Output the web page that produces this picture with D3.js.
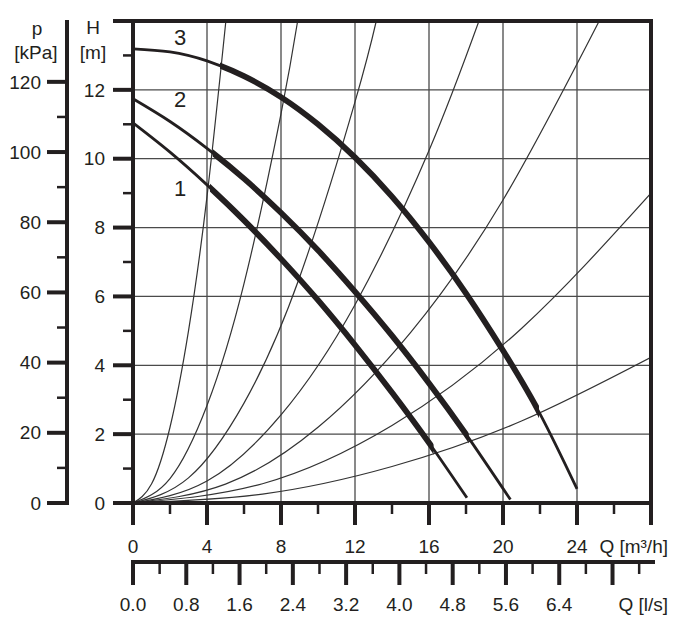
<!DOCTYPE html>
<html>
<head>
<meta charset="utf-8">
<script src="https://cdn.jsdelivr.net/npm/d3@7"></script>
<style>
body { margin: 0; background: #fff; }
text { font-family: "Liberation Sans", Arial, sans-serif; fill: #231f20; }
</style>
</head>
<body>
<svg id="chart" width="700" height="626"></svg>
<script>

// pump curves Q [m3/h], H [m]
var curve1 = [[0,11.04],[2,10.19],[4,9.24],[6,8.21],[8,7.09],[10,5.89],[12,4.59],[14,3.21],[16,1.75],[18.05,0.15]];
var curve2 = [[0,11.74],[2,11.08],[4,10.3],[6,9.42],[8,8.43],[10,7.34],[12,6.14],[14,4.86],[16,3.48],[18,2.0],[20.4,0.1]];
var curve3 = [[0,13.19],[2,13.1],[4,12.84],[6,12.4],[8,11.79],[10,11.0],[12,10.04],[14,8.9],[16,7.58],[18,6.09],[20,4.43],[22,2.59],[24,0.41]];
var curveNames = ["1", "2", "3"];
var thickFrom = [4.16, 4.3, 4.7];
var thickTo = [16.25, 18.15, 21.95];

// system curves (thin, through origin)
var sys1 = [[0,0],[1,0.55],[2,2.2],[3,5.0],[4,8.9],[5.02,14]];
var sys2 = [[0,0],[2,0.71],[4,2.83],[6,6.37],[8,11.3],[8.9,14]];
var sys3 = [[0,0],[3,0.73],[6,2.9],[9,6.55],[12,11.65],[13.15,14]];
var sys4 = [[0,0],[4,0.64],[8,2.56],[12,5.76],[16,10.24],[18.7,14]];
var sys5 = [[0,0],[5,0.55],[10,2.2],[15,4.95],[20,8.8],[25.2,14]];
var sys6 = [[0,0],[7,0.56],[14,2.25],[21,5.07],[28,9.0]];
var sys7 = [[0,0],[7,0.26],[14,1.06],[21,2.38],[28,4.23]];

// ticks
var hMajor = [2, 4, 6, 8, 10, 12];
var hMinor = [1, 3, 5, 7, 9, 11, 13];
var hLabels = [0, 2, 4, 6, 8, 10, 12];
var pMajor = [0, 20, 40, 60, 80, 100, 120];
var pMinor = [10, 30, 50, 70, 90, 110];
var qMajor = [4, 8, 12, 16, 20, 24];
var qMinor = [2, 6, 10, 14, 18, 22, 26];
var qLabels = [0, 4, 8, 12, 16, 20, 24];
var lsMajor = [0, 0.8, 1.6, 2.4, 3.2, 4.0, 4.8, 5.6, 6.4, 7.2];
var lsMinor = [0.4, 1.2, 2.0, 2.8, 3.6, 4.4, 5.2, 6.0, 6.8, 7.6];
var lsLabels = ["0.0", "0.8", "1.6", "2.4", "3.2", "4.0", "4.8", "5.6", "6.4"];

var ink = "#231f20";
var svg = d3.select("#chart");

var x = d3.scaleLinear().domain([0, 28]).range([133, 651]);
var y = d3.scaleLinear().domain([0, 14]).range([503, 21]);
var yp = d3.scaleLinear().domain([0, 14 * 9.81]).range([503, 21]);
var xls = d3.scaleLinear().domain([0, 28 / 3.6]).range([133, 651]);

var line = d3.line()
	.x(function(d) { return x(d[0]); })
	.y(function(d) { return y(d[1]); })
	.curve(d3.curveNatural);

var defs = svg.append("defs");
defs.append("clipPath").attr("id", "plotClip")
	.append("rect")
	.attr("x", x(0)).attr("y", y(14))
	.attr("width", x(28) - x(0)).attr("height", y(0) - y(14));

// grid
var grid = svg.append("g");
grid.selectAll("line.gx").data([4, 8, 12, 16, 20, 24]).enter().append("line")
	.attr("x1", function(d) { return x(d); }).attr("x2", function(d) { return x(d); })
	.attr("y1", y(0)).attr("y2", y(14))
	.attr("stroke", "#4a4a4a").attr("stroke-width", 1.3);
grid.selectAll("line.gy").data([2, 4, 6, 8, 10, 12]).enter().append("line")
	.attr("x1", x(0)).attr("x2", x(28))
	.attr("y1", function(d) { return y(d); }).attr("y2", function(d) { return y(d); })
	.attr("stroke", "#4a4a4a").attr("stroke-width", 1.3);

// system curves
var sysCurves = [sys1, sys2, sys3, sys4, sys5, sys6, sys7];
svg.append("g").attr("clip-path", "url(#plotClip)")
	.selectAll("path").data(sysCurves).enter().append("path")
	.attr("d", line)
	.attr("fill", "none").attr("stroke", "#333").attr("stroke-width", 1.2);

// pump curves, thin line with a thick working range
var pumps = [curve1, curve2, curve3];
var pg = svg.append("g");
pumps.forEach(function(c, i) {
	defs.append("clipPath").attr("id", "thick" + i)
		.append("rect")
		.attr("x", x(thickFrom[i])).attr("y", 0)
		.attr("width", x(thickTo[i]) - x(thickFrom[i])).attr("height", 626);
	pg.append("path").datum(c).attr("d", line)
		.attr("fill", "none").attr("stroke", ink).attr("stroke-width", 2.8);
	pg.append("path").datum(c).attr("d", line)
		.attr("clip-path", "url(#thick" + i + ")")
		.attr("fill", "none").attr("stroke", ink).attr("stroke-width", 5.8);
});

// curve labels
var labelPos = [[2.55, 9.15], [2.55, 11.73], [2.55, 13.53]];
svg.append("g").selectAll("text").data(curveNames).enter().append("text")
	.attr("x", function(d, i) { return x(labelPos[i][0]); })
	.attr("y", function(d, i) { return y(labelPos[i][1]); })
	.attr("text-anchor", "middle").attr("dy", "0.35em")
	.attr("font-size", 22)
	.text(function(d) { return d; });

// frame of plot
var ax = svg.append("g").attr("stroke", ink).attr("stroke-linecap", "butt");
ax.append("line").attr("x1", x(0) - 20).attr("x2", x(28) + 2).attr("y1", y(14)).attr("y2", y(14)).attr("stroke-width", 4);
ax.append("line").attr("x1", x(0) - 20).attr("x2", x(28) + 2).attr("y1", y(0)).attr("y2", y(0)).attr("stroke-width", 4);
ax.append("line").attr("x1", x(0)).attr("x2", x(0)).attr("y1", y(14) - 2).attr("y2", y(0) + 22).attr("stroke-width", 4);
ax.append("line").attr("x1", x(28)).attr("x2", x(28)).attr("y1", y(14) - 2).attr("y2", y(0) + 22).attr("stroke-width", 4);

// H axis ticks
ax.selectAll("line.hmaj").data(hMajor).enter().append("line")
	.attr("x1", x(0) - 20).attr("x2", x(0))
	.attr("y1", function(d) { return y(d); }).attr("y2", function(d) { return y(d); })
	.attr("stroke-width", 4);
ax.selectAll("line.hmin").data(hMinor).enter().append("line")
	.attr("x1", x(0) - 10).attr("x2", x(0))
	.attr("y1", function(d) { return y(d); }).attr("y2", function(d) { return y(d); })
	.attr("stroke-width", 2.5);

// Q m3/h ticks
ax.selectAll("line.qmaj").data(qMajor).enter().append("line")
	.attr("x1", function(d) { return x(d); }).attr("x2", function(d) { return x(d); })
	.attr("y1", y(0)).attr("y2", y(0) + 22)
	.attr("stroke-width", 4);
ax.selectAll("line.qmin").data(qMinor).enter().append("line")
	.attr("x1", function(d) { return x(d); }).attr("x2", function(d) { return x(d); })
	.attr("y1", y(0)).attr("y2", y(0) + 11)
	.attr("stroke-width", 2.5);

// p axis
var pAxisX = 67;
ax.append("line").attr("x1", pAxisX).attr("x2", pAxisX).attr("y1", yp(14 * 9.81) - 1).attr("y2", yp(0) + 2).attr("stroke-width", 4);
ax.selectAll("line.pmaj").data(pMajor).enter().append("line")
	.attr("x1", pAxisX - 20).attr("x2", pAxisX)
	.attr("y1", function(d) { return yp(d); }).attr("y2", function(d) { return yp(d); })
	.attr("stroke-width", 4);
ax.selectAll("line.pmin").data(pMinor).enter().append("line")
	.attr("x1", pAxisX - 10).attr("x2", pAxisX)
	.attr("y1", function(d) { return yp(d); }).attr("y2", function(d) { return yp(d); })
	.attr("stroke-width", 2.5);

// l/s axis
var lsY = 562;
ax.append("line").attr("x1", xls(0) - 2).attr("x2", x(28) + 4).attr("y1", lsY).attr("y2", lsY).attr("stroke-width", 4);
ax.selectAll("line.lsmaj").data(lsMajor).enter().append("line")
	.attr("x1", function(d) { return xls(d); }).attr("x2", function(d) { return xls(d); })
	.attr("y1", lsY).attr("y2", lsY + 23)
	.attr("stroke-width", 4);
ax.selectAll("line.lsmin").data(lsMinor).enter().append("line")
	.attr("x1", function(d) { return xls(d); }).attr("x2", function(d) { return xls(d); })
	.attr("y1", lsY).attr("y2", lsY + 12)
	.attr("stroke-width", 2.5);

// labels
var lab = svg.append("g").attr("font-size", 19);
lab.selectAll("text.h").data(hLabels).enter().append("text")
	.attr("x", 105).attr("y", function(d) { return y(d); })
	.attr("dy", "0.35em").attr("text-anchor", "end")
	.text(function(d) { return d; });
lab.selectAll("text.p").data(pMajor).enter().append("text")
	.attr("x", 41).attr("y", function(d) { return yp(d); })
	.attr("dy", "0.35em").attr("text-anchor", "end")
	.text(function(d) { return d; });
lab.selectAll("text.q").data(qLabels).enter().append("text")
	.attr("x", function(d) { return x(d); }).attr("y", 546)
	.attr("dy", "0.35em").attr("text-anchor", "middle")
	.text(function(d) { return d; });
lab.selectAll("text.ls").data(lsLabels).enter().append("text")
	.attr("x", function(d) { return xls(+d); }).attr("y", 604)
	.attr("dy", "0.35em").attr("text-anchor", "middle")
	.text(function(d) { return d; });

lab.append("text").attr("x", 668).attr("y", 546).attr("dy", "0.35em").attr("text-anchor", "end").text("Q [m³/h]");
lab.append("text").attr("x", 668).attr("y", 604).attr("dy", "0.35em").attr("text-anchor", "end").text("Q [l/s]");
lab.append("text").attr("x", 37).attr("y", 28).attr("dy", "0.35em").attr("text-anchor", "middle").text("p");
lab.append("text").attr("x", 36).attr("y", 52).attr("dy", "0.35em").attr("text-anchor", "middle").text("[kPa]");
lab.append("text").attr("x", 93).attr("y", 27).attr("dy", "0.35em").attr("text-anchor", "middle").text("H");
lab.append("text").attr("x", 93).attr("y", 52).attr("dy", "0.35em").attr("text-anchor", "middle").text("[m]");

</script>
</body>
</html>
